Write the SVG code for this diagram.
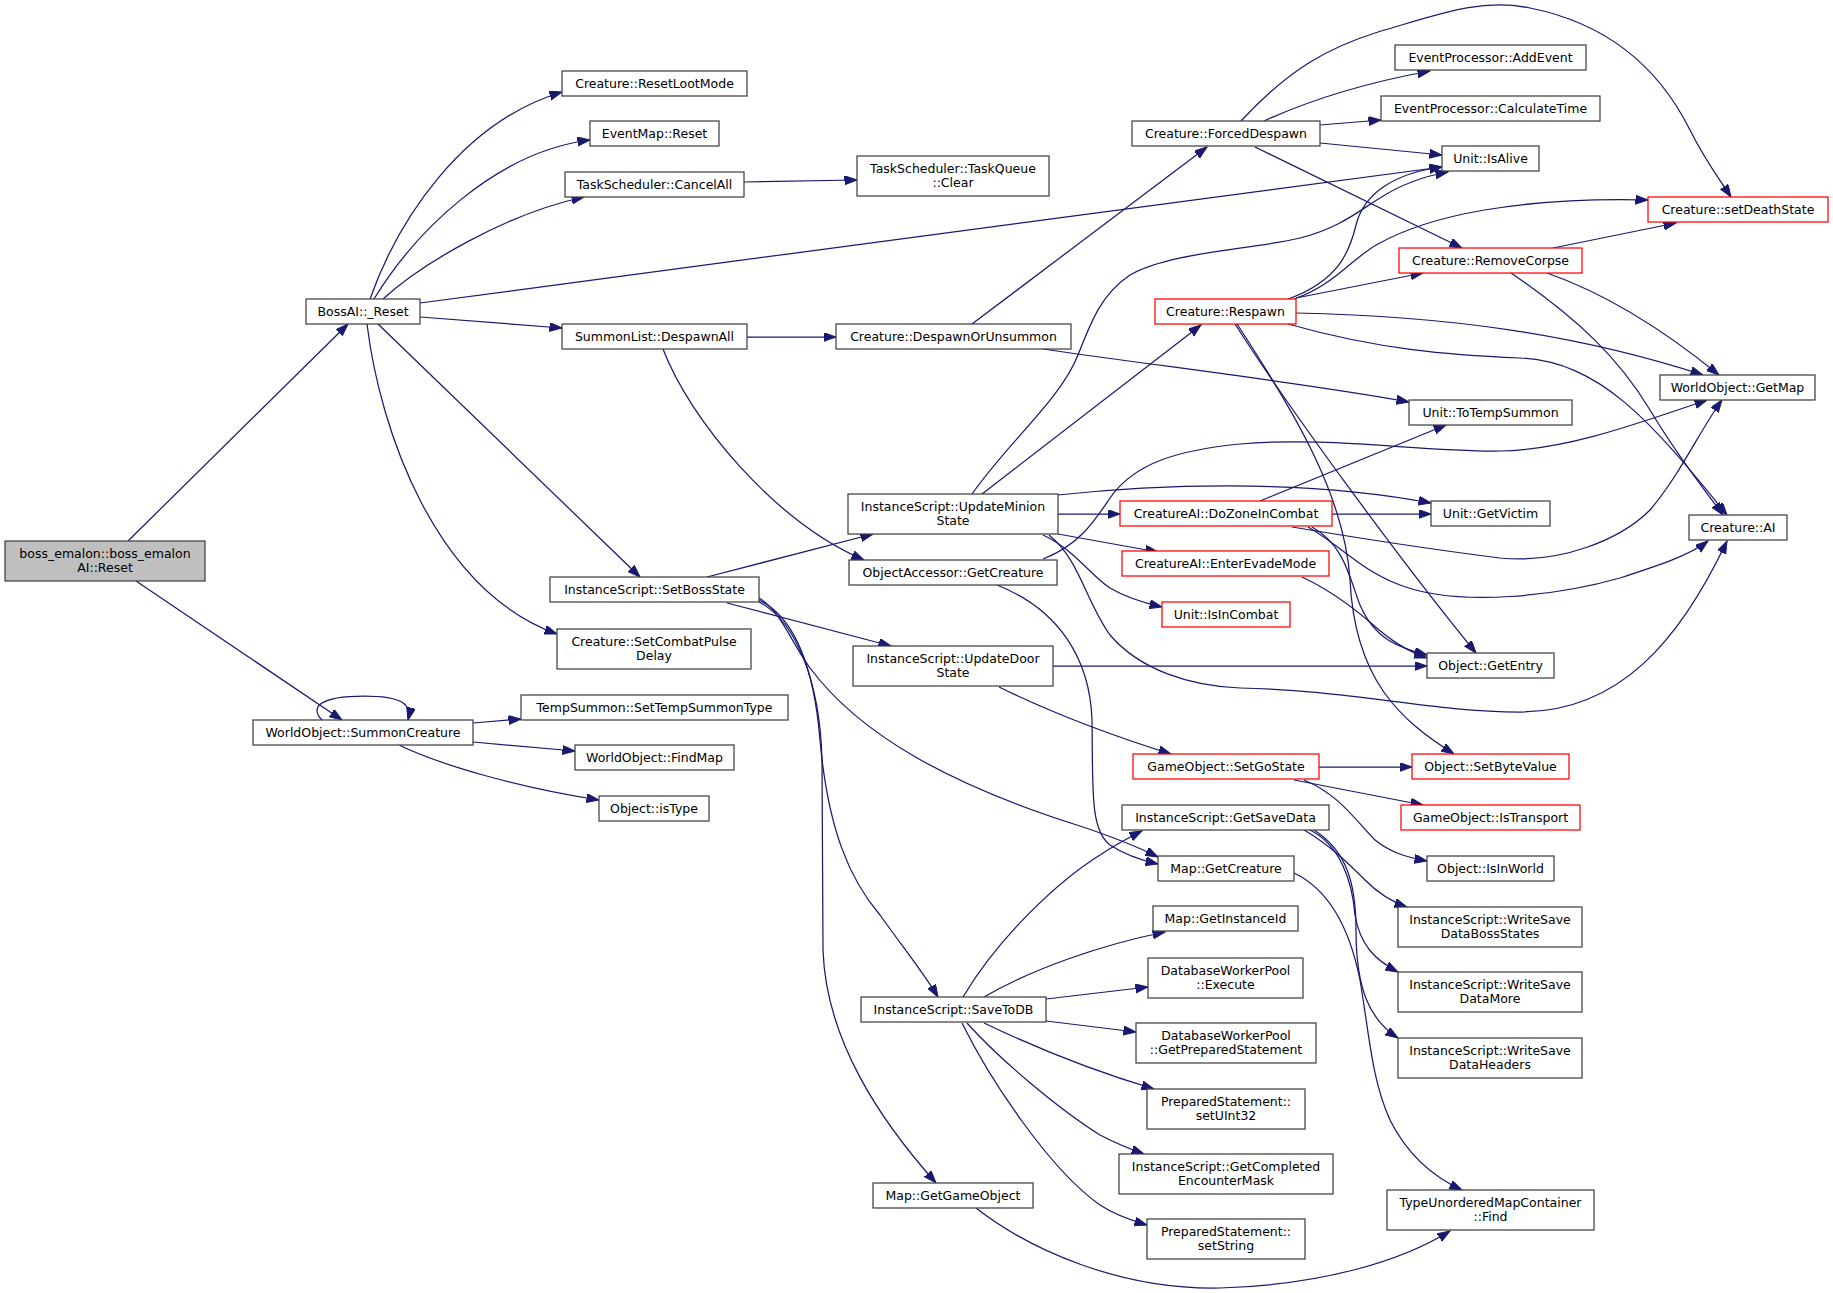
<svg xmlns="http://www.w3.org/2000/svg" width="1833" height="1293" viewBox="0 0 1833 1293">
<style>
rect{fill:#fff;stroke:#404040;stroke-width:1.25}
rect.r{stroke:#ff0000}
rect.root{fill:#bfbfbf}
text{font-family:"DejaVu Sans","Liberation Sans",sans-serif;font-size:12.5px;text-anchor:middle;fill:#000}
#edges path{fill:none;stroke:#191970;stroke-width:1.25;marker-end:url(#a)}
</style>
<defs>
<marker id="a" markerWidth="15" markerHeight="11" refX="12.5" refY="4.5" orient="auto" markerUnits="userSpaceOnUse">
<path d="M0,0 L12.5,4.5 L0,9 z" fill="#191970" stroke="#191970" stroke-width="1"/>
</marker>
</defs>
<rect x="0" y="0" width="1833" height="1293" style="fill:#fff;stroke:none"/>
<g id="edges">
<path d="M128,541 L348,324"/>
<path d="M136,581 L342,720"/>
<path d="M370,299 C398,220 462,122 562,92"/>
<path d="M374,299 C415,232 495,152 590,140"/>
<path d="M383,299 C420,265 505,214 584,197"/>
<path d="M420,303 L1442,167"/>
<path d="M420,317 L562,328"/>
<path d="M378,324 L640,577"/>
<path d="M367,324 C380,430 435,590 557,634"/>
<path d="M744,182 L857,180"/>
<path d="M747,337 L836,337"/>
<path d="M663,349 C690,420 775,522 864,560"/>
<path d="M972,324 L1207,147"/>
<path d="M1043,349 C1150,365 1300,382 1409,402"/>
<path d="M1264,121 C1310,100 1370,82 1430,71"/>
<path d="M1320,125 L1381,120"/>
<path d="M1320,143 L1442,155"/>
<path d="M1241,121 C1290,68 1330,47 1378,32 C1440,14 1480,-2 1530,8 C1610,24 1660,70 1690,130 C1706,162 1720,180 1731,197"/>
<path d="M1255,147 L1462,248"/>
<path d="M1288,299 C1340,280 1350,250 1356,225 C1364,193 1395,173 1442,167"/>
<path d="M1294,299 C1335,285 1352,258 1378,244 C1430,215 1520,197 1648,200"/>
<path d="M1296,298 L1423,273"/>
<path d="M1296,313 C1450,316 1580,335 1703,375"/>
<path d="M1288,324 C1380,350 1450,355 1520,358 C1600,362 1650,420 1727,515"/>
<path d="M1235,324 C1290,410 1400,560 1476,653"/>
<path d="M1237,324 C1300,420 1345,500 1350,580 C1355,680 1400,720 1454,754"/>
<path d="M1553,248 L1676,223"/>
<path d="M1547,273 C1610,295 1670,335 1719,375"/>
<path d="M1511,273 C1580,320 1620,360 1650,410 C1680,460 1705,490 1723,515"/>
<path d="M972,494 C1010,440 1060,400 1078,355 C1090,325 1100,295 1130,275 C1170,252 1250,250 1300,238 C1340,228 1360,210 1380,198 C1400,185 1420,177 1448,172"/>
<path d="M982,494 L1201,325"/>
<path d="M1058,495 C1150,485 1300,478 1431,503"/>
<path d="M1058,514 L1120,514"/>
<path d="M1058,534 L1158,552"/>
<path d="M1043,535 C1075,550 1090,575 1110,588 C1125,597 1140,602 1162,607"/>
<path d="M1049,535 C1080,560 1085,600 1110,635 C1140,670 1190,686 1240,688 C1350,690 1430,712 1520,712 C1620,712 1680,640 1727,541"/>
<path d="M1043,559 C1080,545 1095,520 1110,498 C1135,462 1180,450 1240,444 C1330,436 1420,452 1500,451 C1560,450 1620,430 1707,400"/>
<path d="M997,585 C1060,610 1090,660 1092,720 C1093,790 1090,830 1110,845 C1125,855 1140,860 1158,864"/>
<path d="M1053,666 L1427,666"/>
<path d="M999,687 C1050,712 1110,735 1171,754"/>
<path d="M707,577 L873,534"/>
<path d="M727,603 L891,646"/>
<path d="M759,598 C780,610 790,640 810,668 C860,735 950,785 1080,826 C1110,836 1140,848 1158,857"/>
<path d="M759,600 C800,620 815,680 820,740 C828,830 850,880 880,915 C905,950 925,975 938,997"/>
<path d="M759,602 C795,620 820,680 822,760 L823,950 C826,1040 880,1120 936,1183"/>
<path d="M1332,514 L1431,514"/>
<path d="M1260,501 L1446,425"/>
<path d="M1312,527 C1345,545 1350,580 1360,605 C1375,640 1400,648 1427,655"/>
<path d="M1308,527 C1340,545 1360,570 1400,585 C1460,608 1560,595 1620,578 C1660,565 1690,555 1708,541"/>
<path d="M1292,527 C1340,535 1420,548 1500,558 C1560,564 1620,540 1650,510 C1680,475 1700,430 1722,400"/>
<path d="M1302,577 C1330,590 1350,605 1371,623 C1390,640 1405,650 1427,658"/>
<path d="M1319,767 L1412,767"/>
<path d="M1294,780 L1423,805"/>
<path d="M1304,780 C1340,795 1355,820 1375,840 C1390,852 1405,857 1427,861"/>
<path d="M1304,830 C1330,845 1350,865 1365,880 C1380,895 1392,902 1407,907"/>
<path d="M1310,830 C1340,845 1352,880 1355,915 C1360,945 1375,960 1398,972"/>
<path d="M1314,830 C1345,850 1356,880 1356,930 C1356,990 1370,1020 1398,1038"/>
<path d="M1294,873 C1330,890 1350,930 1360,980 C1370,1040 1372,1080 1390,1120 C1410,1160 1440,1180 1462,1190"/>
<path d="M976,1208 C1030,1250 1120,1290 1220,1288 C1320,1285 1400,1262 1450,1231"/>
<path d="M963,997 C1000,935 1060,880 1100,855 C1115,845 1128,838 1142,831"/>
<path d="M984,997 C1030,970 1100,945 1165,932"/>
<path d="M1046,999 L1148,987"/>
<path d="M1046,1021 L1136,1032"/>
<path d="M984,1023 C1030,1045 1090,1070 1154,1089"/>
<path d="M967,1023 C1000,1060 1060,1110 1100,1135 C1115,1143 1130,1149 1144,1154"/>
<path d="M962,1023 C990,1080 1050,1170 1100,1205 C1115,1215 1130,1220 1147,1225"/>
<path d="M322,720 C310,708 318,696 364,696 C402,696 412,704 408,720"/>
<path d="M473,723 L521,719"/>
<path d="M473,742 L575,751"/>
<path d="M399,745 C440,765 520,788 599,800"/>
</g>
<g id="n0"><rect class="root" x="5" y="541" width="200" height="40"/><text x="105" y="558">boss_emalon::boss_emalon</text><text x="105" y="571.5">AI::Reset</text></g>
<g id="n1"><rect x="306" y="299" width="114" height="25"/><text x="363" y="316">BossAI::_Reset</text></g>
<g id="n2"><rect x="562" y="71" width="185" height="25"/><text x="654.5" y="88">Creature::ResetLootMode</text></g>
<g id="n3"><rect x="590" y="121" width="129" height="25"/><text x="654.5" y="138">EventMap::Reset</text></g>
<g id="n4"><rect x="565" y="172" width="179" height="25"/><text x="654.5" y="189">TaskScheduler::CancelAll</text></g>
<g id="n5"><rect x="857" y="156" width="192" height="40"/><text x="953" y="173">TaskScheduler::TaskQueue</text><text x="953" y="186.5">::Clear</text></g>
<g id="n6"><rect x="562" y="324" width="185" height="25"/><text x="654.5" y="341">SummonList::DespawnAll</text></g>
<g id="n7"><rect x="836" y="324" width="235" height="25"/><text x="953.5" y="341">Creature::DespawnOrUnsummon</text></g>
<g id="n8"><rect x="1132" y="121" width="188" height="25"/><text x="1226" y="138">Creature::ForcedDespawn</text></g>
<g id="n9"><rect x="1395" y="45" width="191" height="25"/><text x="1490.5" y="62">EventProcessor::AddEvent</text></g>
<g id="n10"><rect x="1381" y="96" width="219" height="25"/><text x="1490.5" y="113">EventProcessor::CalculateTime</text></g>
<g id="n11"><rect x="1442" y="146" width="97" height="25"/><text x="1490.5" y="163">Unit::IsAlive</text></g>
<g id="n12"><rect class="r" x="1648" y="197" width="180" height="25"/><text x="1738" y="214">Creature::setDeathState</text></g>
<g id="n13"><rect class="r" x="1399" y="248" width="183" height="25"/><text x="1490.5" y="265">Creature::RemoveCorpse</text></g>
<g id="n14"><rect class="r" x="1155" y="299" width="141" height="25"/><text x="1225.5" y="316">Creature::Respawn</text></g>
<g id="n15"><rect x="1660" y="375" width="155" height="25"/><text x="1737.5" y="392">WorldObject::GetMap</text></g>
<g id="n16"><rect x="1409" y="400" width="163" height="25"/><text x="1490.5" y="417">Unit::ToTempSummon</text></g>
<g id="n17"><rect x="550" y="577" width="209" height="25"/><text x="654.5" y="594">InstanceScript::SetBossState</text></g>
<g id="n18"><rect x="557" y="629" width="194" height="40"/><text x="654" y="646">Creature::SetCombatPulse</text><text x="654" y="659.5">Delay</text></g>
<g id="n19"><rect x="253" y="720" width="220" height="25"/><text x="363" y="737">WorldObject::SummonCreature</text></g>
<g id="n20"><rect x="521" y="695" width="267" height="25"/><text x="654.5" y="712">TempSummon::SetTempSummonType</text></g>
<g id="n21"><rect x="575" y="745" width="159" height="25"/><text x="654.5" y="762">WorldObject::FindMap</text></g>
<g id="n22"><rect x="599" y="796" width="110" height="25"/><text x="654" y="813">Object::isType</text></g>
<g id="n23"><rect x="848" y="494" width="210" height="40"/><text x="953" y="511">InstanceScript::UpdateMinion</text><text x="953" y="524.5">State</text></g>
<g id="n24"><rect x="849" y="560" width="208" height="25"/><text x="953" y="577">ObjectAccessor::GetCreature</text></g>
<g id="n25"><rect x="853" y="646" width="200" height="40"/><text x="953" y="663">InstanceScript::UpdateDoor</text><text x="953" y="676.5">State</text></g>
<g id="n26"><rect class="r" x="1120" y="501" width="212" height="25"/><text x="1226" y="518">CreatureAI::DoZoneInCombat</text></g>
<g id="n27"><rect class="r" x="1122" y="551" width="207" height="25"/><text x="1225.5" y="568">CreatureAI::EnterEvadeMode</text></g>
<g id="n28"><rect class="r" x="1162" y="602" width="128" height="25"/><text x="1226" y="619">Unit::IsInCombat</text></g>
<g id="n29"><rect class="r" x="1133" y="754" width="186" height="25"/><text x="1226" y="771">GameObject::SetGoState</text></g>
<g id="n30"><rect x="1122" y="805" width="207" height="25"/><text x="1225.5" y="822">InstanceScript::GetSaveData</text></g>
<g id="n31"><rect x="1158" y="856" width="136" height="25"/><text x="1226" y="873">Map::GetCreature</text></g>
<g id="n32"><rect x="1431" y="501" width="119" height="25"/><text x="1490.5" y="518">Unit::GetVictim</text></g>
<g id="n33"><rect x="1689" y="515" width="98" height="25"/><text x="1738" y="532">Creature::AI</text></g>
<g id="n34"><rect x="1427" y="653" width="127" height="25"/><text x="1490.5" y="670">Object::GetEntry</text></g>
<g id="n35"><rect class="r" x="1412" y="754" width="157" height="25"/><text x="1490.5" y="771">Object::SetByteValue</text></g>
<g id="n36"><rect class="r" x="1401" y="805" width="179" height="25"/><text x="1490.5" y="822">GameObject::IsTransport</text></g>
<g id="n37"><rect x="1427" y="856" width="127" height="25"/><text x="1490.5" y="873">Object::IsInWorld</text></g>
<g id="n38"><rect x="1153" y="906" width="145" height="25"/><text x="1225.5" y="923">Map::GetInstanceId</text></g>
<g id="n39"><rect x="1148" y="958" width="155" height="40"/><text x="1225.5" y="975">DatabaseWorkerPool</text><text x="1225.5" y="988.5">::Execute</text></g>
<g id="n40"><rect x="861" y="997" width="185" height="25"/><text x="953.5" y="1014">InstanceScript::SaveToDB</text></g>
<g id="n41"><rect x="1136" y="1023" width="180" height="40"/><text x="1226" y="1040">DatabaseWorkerPool</text><text x="1226" y="1053.5">::GetPreparedStatement</text></g>
<g id="n42"><rect x="1147" y="1089" width="158" height="40"/><text x="1226" y="1106">PreparedStatement::</text><text x="1226" y="1119.5">setUInt32</text></g>
<g id="n43"><rect x="1119" y="1154" width="214" height="40"/><text x="1226" y="1171">InstanceScript::GetCompleted</text><text x="1226" y="1184.5">EncounterMask</text></g>
<g id="n44"><rect x="873" y="1183" width="160" height="25"/><text x="953" y="1200">Map::GetGameObject</text></g>
<g id="n45"><rect x="1147" y="1219" width="158" height="40"/><text x="1226" y="1236">PreparedStatement::</text><text x="1226" y="1249.5">setString</text></g>
<g id="n46"><rect x="1398" y="907" width="184" height="40"/><text x="1490" y="924">InstanceScript::WriteSave</text><text x="1490" y="937.5">DataBossStates</text></g>
<g id="n47"><rect x="1398" y="972" width="184" height="40"/><text x="1490" y="989">InstanceScript::WriteSave</text><text x="1490" y="1002.5">DataMore</text></g>
<g id="n48"><rect x="1398" y="1038" width="184" height="40"/><text x="1490" y="1055">InstanceScript::WriteSave</text><text x="1490" y="1068.5">DataHeaders</text></g>
<g id="n49"><rect x="1387" y="1190" width="207" height="40"/><text x="1490.5" y="1207">TypeUnorderedMapContainer</text><text x="1490.5" y="1220.5">::Find</text></g>
</svg>
